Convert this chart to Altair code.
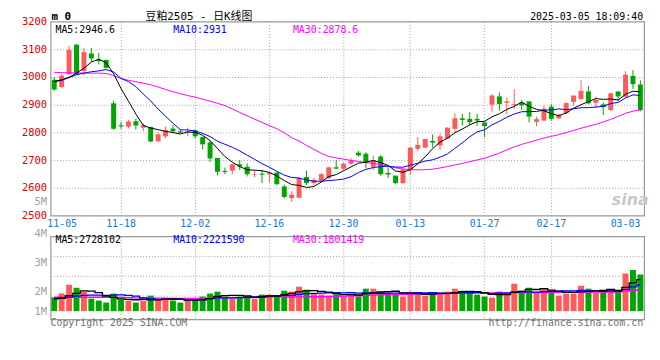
import altair as alt
import pandas as pd

# ---------------- data ----------------
dates = ["2024-11-05","2024-11-06","2024-11-07","2024-11-08","2024-11-11","2024-11-12","2024-11-13","2024-11-14","2024-11-15","2024-11-18",
         "2024-11-19","2024-11-20","2024-11-21","2024-11-22","2024-11-25","2024-11-26","2024-11-27","2024-11-28","2024-11-29","2024-12-02",
         "2024-12-03","2024-12-04","2024-12-05","2024-12-06","2024-12-09","2024-12-10","2024-12-11","2024-12-12","2024-12-13","2024-12-16",
         "2024-12-17","2024-12-18","2024-12-19","2024-12-20","2024-12-23","2024-12-24","2024-12-25","2024-12-26","2024-12-27","2024-12-30",
         "2024-12-31","2025-01-02","2025-01-03","2025-01-06","2025-01-07","2025-01-08","2025-01-09","2025-01-10","2025-01-13","2025-01-14",
         "2025-01-15","2025-01-16","2025-01-17","2025-01-20","2025-01-21","2025-01-22","2025-01-23","2025-01-24","2025-01-27","2025-02-05",
         "2025-02-06","2025-02-07","2025-02-10","2025-02-11","2025-02-12","2025-02-13","2025-02-14","2025-02-17","2025-02-18","2025-02-19",
         "2025-02-20","2025-02-21","2025-02-24","2025-02-25","2025-02-26","2025-02-27","2025-02-28","2025-03-03","2025-03-04","2025-03-05"]

opens = [2990,2964,3010,3117,3022,3085,3062,3062,2905,2826,
         2821,2840,2817,2820,2768,2786,2814,2804,2799,2807,
         2783,2764,2708,2661,2662,2685,2676,2648,2651,2649,
         2655,2605,2563,2564,2639,2617,2626,2635,2674,2669,
         2687,2727,2723,2676,2713,2654,2644,2617,2667,2741,
         2745,2769,2753,2778,2813,2851,2849,2849,2836,2900,
         2930,2907,2899,2907,2912,2838,2843,2893,2851,2869,
         2910,2921,2948,2907,2901,2881,2948,2929,3004,2973]

highs = [3000,3010,3112,3119,3105,3105,3087,3062,2914,2838,
         2845,2850,2833,2820,2800,2821,2826,2812,2817,2810,
         2786,2772,2708,2673,2685,2700,2688,2664,2664,2655,
         2658,2611,2587,2638,2662,2635,2653,2676,2700,2691,
         2707,2733,2728,2716,2717,2674,2644,2669,2748,2783,
         2777,2793,2795,2819,2869,2867,2873,2867,2836,2938,
         2944,2926,2956,2917,2912,2857,2897,2902,2869,2908,
         2933,2988,2967,2929,2908,2943,2948,3021,3025,2988]

lows = [2950,2960,3007,3007,3007,3055,3045,3031,2810,2813,
        2814,2810,2805,2765,2765,2779,2797,2797,2787,2778,
        2739,2694,2645,2649,2649,2664,2641,2638,2617,2620,
        2610,2562,2549,2563,2610,2611,2623,2631,2667,2664,
        2682,2712,2670,2664,2643,2635,2614,2614,2647,2733,
        2744,2745,2736,2776,2798,2824,2826,2824,2783,2873,
        2879,2864,2885,2881,2836,2822,2839,2843,2848,2867,
        2897,2917,2902,2888,2863,2876,2914,2926,2956,2876]

closes = [2955,3005,3098,3010,3090,3067,3057,3033,2813,2822,
          2839,2825,2826,2767,2793,2808,2804,2799,2804,2786,
          2757,2706,2658,2657,2685,2677,2649,2650,2647,2655,
          2613,2567,2575,2635,2617,2629,2649,2674,2669,2687,
          2698,2717,2691,2700,2649,2648,2617,2667,2745,2755,
          2776,2763,2786,2817,2851,2845,2837,2843,2823,2933,
          2902,2912,2902,2898,2857,2848,2886,2849,2862,2906,
          2933,2950,2905,2917,2891,2941,2930,3008,2974,2881]

volumes = [1210000,1550000,2300000,2040000,1700000,1090000,920000,750000,1530000,1010000,
           920000,750000,920000,1350000,1010000,1180000,920000,750000,920000,1010000,
           1270000,1530000,1700000,1270000,1090000,1270000,1270000,1090000,1440000,1440000,
           1350000,1780000,1700000,2130000,1870000,1500000,1450000,1350000,1610000,1270000,
           1530000,1270000,1960000,1960000,1700000,1610000,1440000,1270000,1700000,1610000,
           1350000,1530000,1530000,1700000,1960000,1780000,1610000,1440000,1270000,1180000,
           1700000,1610000,2390000,1780000,2040000,1610000,1960000,1780000,1350000,1530000,
           1530000,2220000,1960000,1610000,1780000,1870000,1780000,3280000,3590000,3190000]

# moving-average values before a full window exists
ma5_head = [2984, 2990, 2999, 3014]
ma10_head = [2983, 2988, 2998, 3008, 3014, 3019, 3022, 3027, 3018]
ma30_head = [3017, 3016, 3015, 3015, 3014, 3014, 3014, 3013, 3005, 2995,
             2988, 2983, 2978, 2972, 2964, 2955, 2947, 2940, 2933, 2927,
             2920, 2913, 2905, 2897, 2885, 2872, 2860, 2848, 2836]
vma5_head = [1070000, 1120000, 1350000, 1550000]
vma10_head = [1120000, 1150000, 1220000, 1300000, 1380000, 1400000, 1400000, 1380000, 1400000]
vma30_head = [1210000, 1210000, 1210000, 1210000, 1210000, 1210000, 1210000, 1200000, 1200000, 1190000,
              1180000, 1160000, 1150000, 1140000, 1130000, 1120000, 1120000, 1120000, 1120000, 1120000,
              1130000, 1140000, 1150000, 1160000, 1170000, 1180000, 1190000, 1200000, 1220000]

label_dates = ["2024-11-05", "2024-11-18", "2024-12-02", "2024-12-16", "2024-12-30",
               "2025-01-13", "2025-01-27", "2025-02-17", "2025-03-03"]
no_grid_dates = ["2024-11-05", "2025-03-03"]
price_ticks = [2500, 2550, 2600, 2700, 2800, 2900, 3000, 3100, 3200]
price_domain = [2500, 3200]
vol_domain = [-720000, 6530000]
vol_label_values = [0, 1700000, 4280000, 6530000]
vol_label_texts = ["1M", "2M", "3M", "4M"]
vol_grid_values = [1330000, 3050000, 4780000]

header_left = "m 0"
header_title = "豆粕2505 - 日K线图"
header_time = "2025-03-05 18:09:40"
price_ma_texts = ["MA5:2946.6", "MA10:2931", "MA30:2878.6"]
vol_ma_texts = ["MA5:2728102", "MA10:2221590", "MA30:1801419"]
footer_left = "Copyright 2025 SINA.COM"
footer_right = "http://finance.sina.com.cn"

# ---------------- styles ----------------
MONO = "DejaVu Sans Mono"
TITLE_FONT = "DejaVu Sans Mono, Noto Sans CJK SC"
RED = "#ff5a5a"
GREEN = "#00a600"
MA_COLORS = ["#000000", "#0000ff", "#ff00ff"]
GRID = "#a0a0a0"
XLABEL = "#1878d0"


def moving_average(values, head):
    s = pd.Series(values, dtype=float).rolling(len(head) + 1).mean()
    s.iloc[:len(head)] = head
    return s.round(2)


df = pd.DataFrame({
    "date": dates, "open": opens, "high": highs, "low": lows, "close": closes,
    "volume": volumes,
})
df["dir"] = ["up" if c >= o else "down" for o, c in zip(opens, closes)]
df["ma5"] = moving_average(closes, ma5_head)
df["ma10"] = moving_average(closes, ma10_head)
df["ma30"] = moving_average(closes, ma30_head)
df["vma5"] = moving_average(volumes, vma5_head)
df["vma10"] = moving_average(volumes, vma10_head)
df["vma30"] = moving_average(volumes, vma30_head)

color_enc = alt.Color("dir:N", scale=alt.Scale(domain=["up", "down"], range=[RED, GREEN]), legend=None)
x_scale = alt.Scale(paddingInner=0, paddingOuter=0)

no_grid_test = " || ".join(f"datum.value == '{d}'" for d in no_grid_dates)
x_grid_opacity = {"condition": {"test": no_grid_test, "value": 0}, "value": 1}
first_label_offset = {"condition": {"test": f"datum.value == '{label_dates[0]}'", "value": 8}, "value": 0}

x_axis_main = alt.Axis(values=label_dates, labelExpr="substring(datum.value, 5)", labelAngle=0,
                       labelColor=XLABEL, labelFont=MONO, labelFontSize=10, labelPadding=3,
                       labelOffset=first_label_offset,
                       labelOverlap=False, ticks=False, domain=False, grid=True,
                       gridColor=GRID, gridDash=[1, 2], gridOpacity=x_grid_opacity)
x_axis_vol = alt.Axis(values=label_dates, labels=False, ticks=False, domain=False, grid=True,
                      gridColor=GRID, gridDash=[1, 2], gridOpacity=x_grid_opacity)

X_main = alt.X("date:O", title=None, scale=x_scale, axis=x_axis_main)
X_vol = alt.X("date:O", title=None, scale=x_scale, axis=x_axis_vol)

price_scale = alt.Scale(domain=price_domain, nice=False, zero=False)
price_axis = alt.Axis(
    values=price_ticks, format="d",
    labelExpr="datum.value == 2550 ? '5M' : datum.label",
    labelColor={"condition": {"test": "datum.value == 2550", "value": "#a0a0a0"}, "value": "#e00000"},
    gridOpacity={"condition": {"test": "datum.value == 2500 || datum.value == 2550 || datum.value == 3200",
                               "value": 0}, "value": 1},
    labelFont=MONO, labelFontSize=10.5, labelPadding=4, ticks=False, domain=False,
    grid=True, gridColor=GRID, gridDash=[1, 2], minExtent=36, maxExtent=36)

vol_label_expr = " : ".join(f"datum.value == {v} ? '{t}'" for v, t in zip(vol_label_values, vol_label_texts)) + " : ''"
grid_list = ",".join(str(v) for v in vol_grid_values)
vol_scale = alt.Scale(domain=vol_domain, nice=False, zero=False)
vol_axis = alt.Axis(
    values=sorted(vol_label_values + vol_grid_values),
    labelExpr=vol_label_expr,
    labelColor="#a0a0a0",
    labelBaseline={"condition": {"test": f"datum.value == {vol_label_values[-1]}", "value": "alphabetic"},
                   "value": "middle"},
    gridOpacity={"condition": {"test": f"indexof([{grid_list}], datum.value) < 0", "value": 0}, "value": 1},
    labelFont=MONO, labelFontSize=10.5, labelPadding=4, ticks=False, domain=False,
    grid=True, gridColor=GRID, gridDash=[1, 2], minExtent=36, maxExtent=36)


def Yp(field):
    return alt.Y(field, title=None, scale=price_scale, axis=price_axis)


def Yv(field):
    return alt.Y(field, title=None, scale=vol_scale, axis=vol_axis)


def text_layer(text, x, y, color, align="left", font=MONO, size=10, weight="normal", style="normal"):
    return alt.Chart(pd.DataFrame({"t": [text]})).mark_text(
        align=align, baseline="middle", font=font, fontSize=size, fontWeight=weight,
        fontStyle=style, color=color
    ).encode(text="t:N", x=alt.value(x), y=alt.value(y))


base = alt.Chart(df)

# ---------------- price panel ----------------
wick = base.mark_rule(strokeWidth=1).encode(x=X_main, y=Yp("low:Q"), y2="high:Q", color=color_enc)
body = base.mark_bar(size=5).encode(x=X_main, y=Yp("open:Q"), y2="close:Q", color=color_enc)
ma_lines = [
    base.mark_line(color=MA_COLORS[i], strokeWidth=1).encode(x=X_main, y=Yp(f"{f}:Q"))
    for i, f in [(2, "ma30"), (1, "ma10"), (0, "ma5")]
]
main_texts = [
    text_layer(header_left, 1, -4.5, "#000000", size=11, weight="bold"),
    text_layer(header_title, 150, -4.5, "#000000", align="center", font=TITLE_FONT, size=11),
    text_layer(header_time, 599, -4.5, "#000000", align="right"),
    text_layer(price_ma_texts[0], 5, 8, MA_COLORS[0]),
    text_layer(price_ma_texts[1], 124, 8, MA_COLORS[1]),
    text_layer(price_ma_texts[2], 245, 8, MA_COLORS[2]),
    text_layer("sina", 586, 180, "#c8c8c8", align="center", font="DejaVu Sans", size=16,
               weight="bold", style="italic"),
]
main = alt.layer(wick, body, *ma_lines, *main_texts).properties(width=600, height=196)

# ---------------- volume panel ----------------
vbars = base.mark_bar(size=6).encode(x=X_vol, y=Yv("volume:Q"), y2=alt.datum(0), color=color_enc)
vma_lines = [
    base.mark_line(color=MA_COLORS[i], strokeWidth=1.3, interpolate="step").encode(x=X_vol, y=Yv(f"{f}:Q"))
    for i, f in [(2, "vma30"), (1, "vma10"), (0, "vma5")]
]
vol_texts = [
    text_layer(vol_ma_texts[0], 5, 3.5, MA_COLORS[0]),
    text_layer(vol_ma_texts[1], 124, 3.5, MA_COLORS[1]),
    text_layer(vol_ma_texts[2], 245, 3.5, MA_COLORS[2]),
    text_layer(footer_left, 0, 88, "#707070"),
    text_layer(footer_right, 599, 88, "#707070", align="right"),
]
vol = alt.layer(vbars, *vma_lines, *vol_texts).properties(width=600, height=84)

chart = alt.vconcat(main, vol, spacing=21, bounds="flush").properties(
    padding={"left": 6, "top": 0, "right": 2, "bottom": 2},
    background="white",
).configure_view(stroke="#999999", strokeWidth=1.2)

chart.save("out.html", embed_options={"renderer": "svg", "actions": False})
